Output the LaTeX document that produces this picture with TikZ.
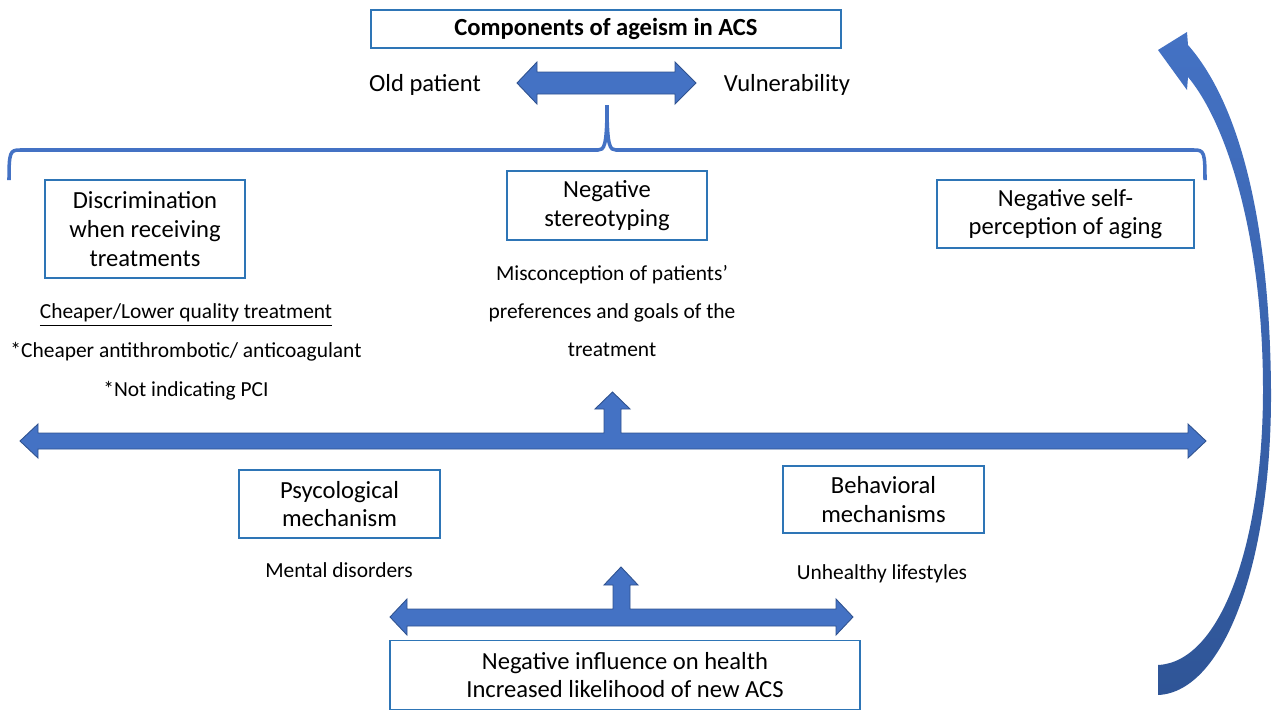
\documentclass[tikz,border=0pt]{standalone}
\usepackage{fontspec}
\setmainfont{Carlito}
\definecolor{boxblue}{HTML}{2E75B6}
\definecolor{arrowblue}{HTML}{4472C4}
\definecolor{arrowedge}{HTML}{2F528F}
\definecolor{arrowdark}{HTML}{2F5597}

\begin{document}
\begin{tikzpicture}[x=0.02cm,y=-0.02cm,
    box/.style={draw=boxblue,line width=1.1pt,align=center,inner sep=0pt,
        font=\fontsize{14}{16.4}\selectfont},
    note/.style={align=center,inner sep=0pt,font=\fontsize{12.2}{22}\selectfont},
    blockarrow/.style={fill=arrowblue,draw=arrowedge,line width=0.5pt}]
    \useasboundingbox (0,0) rectangle (1272,711);

    % boxes
    \node[box,minimum width=9.4cm,minimum height=0.76cm] (title) at (606,29)
        {\textbf{Components of ageism in ACS}};
    \node[box,minimum width=4cm,minimum height=1.96cm] (discr) at (145,229)
        {Discrimination\\when receiving\\treatments};
    \node[box,minimum width=4cm,minimum height=1.38cm] (stereo) at (607,205.5)
        {Negative\\stereotyping};
    \node[box,minimum width=5.14cm,minimum height=1.36cm] (selfperc) at (1065.5,214)
        {Negative self-\\perception of aging};
    \node[box,minimum width=4.02cm,minimum height=1.36cm] (psych) at (339.5,504)
        {Psycological\\mechanism};
    \node[box,minimum width=4.02cm,minimum height=1.34cm] (behav) at (883.5,499.5)
        {Behavioral\\mechanisms};
    \node[box,minimum width=9.4cm,minimum height=1.38cm] (health) at (625,675)
        {Negative influence on health\\Increased likelihood of new ACS};

    % plain texts
    \node[inner sep=0pt,font=\fontsize{14}{16.4}\selectfont] (oldpat) at (425,85) {Old patient};
    \node[inner sep=0pt,font=\fontsize{14}{16.4}\selectfont] (vulner) at (787,85) {Vulnerability};
    \node[note] (cheaper) at (186,352)
        {\underline{Cheaper/Lower quality treatment}\\*Cheaper antithrombotic/ anticoagulant\\*Not indicating PCI};
    \node[note,font=\fontsize{12.2}{21.5}\selectfont] (misconc) at (612,311)
        {Misconception of patients’\\preferences and goals of the\\treatment};
    \node[note] (mental) at (339,570) {Mental disorders};
    \node[note] (lifestyle) at (882,574) {Unhealthy lifestyles};

    % brace
    \draw[arrowblue,line width=2pt]
        (9,180) .. controls (9,152) and (10,150) .. (20,150) -- (598,150)
        .. controls (604,150) and (607,147) .. (607,105)
        .. controls (607,147) and (610,150) .. (616,150) -- (1194,150)
        .. controls (1204,150) and (1205,152) .. (1205,180);

    % block arrows
    \filldraw[blockarrow] (517,83) -- (537,62) -- (537,72) -- (675,72) -- (675,62) -- (696,83)
        -- (675,104) -- (675,94) -- (537,94) -- (537,104) -- cycle;
    \filldraw[blockarrow] (20,441) -- (38,424) -- (38,433) -- (604,433) -- (604,409) -- (595,409)
        -- (612.5,392) -- (630,409) -- (621,409) -- (621,433) -- (1188,433) -- (1188,424)
        -- (1206,441) -- (1188,458) -- (1188,449) -- (38,449) -- (38,458) -- cycle;
    \filldraw[blockarrow] (390,617) -- (407,599) -- (407,609) -- (613,609) -- (613,585) -- (604,585)
        -- (621,567) -- (638,585) -- (630,585) -- (630,609) -- (836,609) -- (836,599)
        -- (853,617) -- (836,635) -- (836,626) -- (407,626) -- (407,635) -- cycle;

    % curved arrow
    \shade[top color=arrowblue,bottom color=arrowdark]
        (1158,695) .. controls (1225,692) and (1272,560) .. (1271,390)
        .. controls (1270,240) and (1245,110) .. (1188,45)
        -- (1187,32) -- (1158,50) -- (1187,90) -- (1188,77)
        .. controls (1228,125) and (1263,240) .. (1263,390)
        .. controls (1263,540) and (1222,662) .. (1158,665) -- cycle;
\end{tikzpicture}
\end{document}
